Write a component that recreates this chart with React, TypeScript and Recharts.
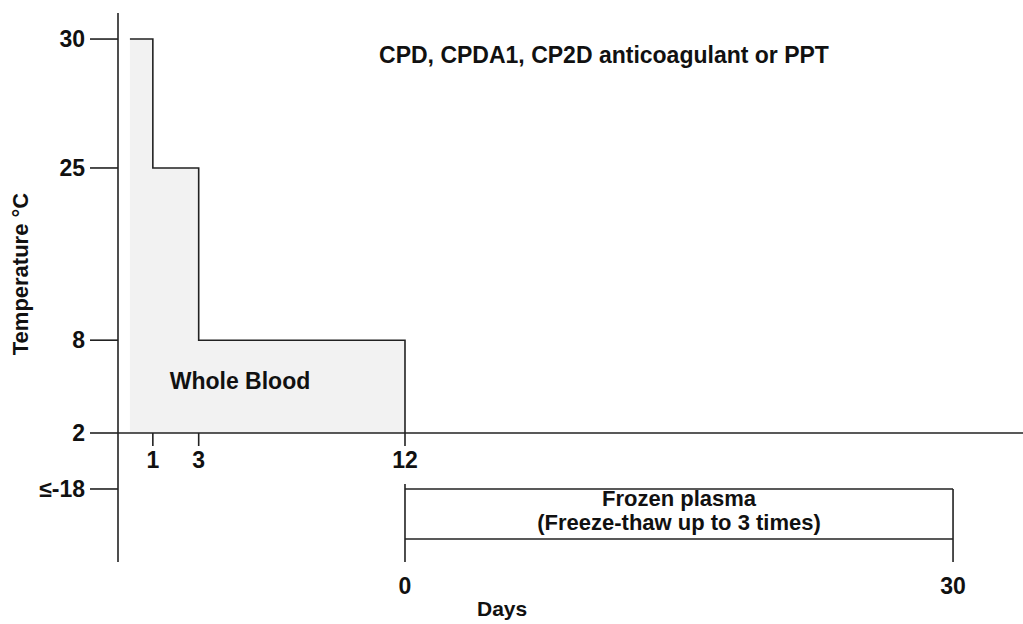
import React from "react";
import { ComposedChart, Area, XAxis, YAxis, ReferenceLine } from "recharts";

// The figure is a schematic: temperatures are not drawn to scale, so every
// temperature label gets a level on a 0..100 panel axis (0 = panel bottom).
const upperTempLabels = ["30", "25", "8", "2"];
const upperTempLevels = [93.8, 63.1, 22.1, 0];
const lowerTempLabels = ["≤-18"];
const lowerTempLevels = [56.6];

// Whole blood: allowed temperature over storage days (step shape)
const bloodDays = [0, 1, 3, 12, 12];
const bloodTemps = ["30", "25", "8", "8", "2"];
const upperDayTicks = [1, 3, 12];

// Frozen plasma: 0..30 days at <= -18 (drawn as a labelled band)
const plasmaDays = [0, 30];
const plasmaBandLow = [17.8, 17.8];
const plasmaBandHigh = [56.6, 56.6];
const plasmaLineTops = [60.5, 56.6];
const lowerDayTicks = [0, 30];

const FONT = '"Liberation Sans", Arial, Helvetica, sans-serif';
const INK = "#222";
const W = 1023;

const tickStyle = { fontFamily: FONT, fontSize: 23, fontWeight: 700, fill: "#111" };
const lineStyle = { stroke: INK, strokeWidth: 1.6 };

export default function App() {
  const levelOf = (t: string) => upperTempLevels[upperTempLabels.indexOf(t)];
  const bloodData = bloodDays.map((day, i) => ({ day, level: levelOf(bloodTemps[i]) }));
  const plasmaData = plasmaDays.map((day, i) => ({ day, band: [plasmaBandLow[i], plasmaBandHigh[i]] }));

  return (
    <div style={{ position: "fixed", left: 0, top: 0, width: W, height: 624, overflow: "hidden", background: "#fff" }}>
      {/* upper panel: whole blood */}
      <div style={{ position: "absolute", left: 0, top: 0 }}>
        <ComposedChart width={W} height={473} data={bloodData} margin={{ top: 13, right: 0, bottom: 0, left: 0 }}>
          <XAxis
            dataKey="day"
            type="number"
            domain={[-0.52, 38.96]}
            allowDataOverflow
            ticks={upperDayTicks}
            interval={0}
            height={40}
            tickSize={13}
            tickMargin={6}
            axisLine={lineStyle}
            tickLine={lineStyle}
            tick={tickStyle}
          />
          <YAxis
            type="number"
            domain={[0, 100]}
            ticks={upperTempLevels}
            interval={0}
            width={118}
            tickSize={28}
            tickMargin={5}
            tickFormatter={(v: number) => upperTempLabels[upperTempLevels.indexOf(v)]}
            axisLine={lineStyle}
            tickLine={lineStyle}
            tick={tickStyle}
          />
          <Area
            type="stepAfter"
            dataKey="level"
            baseValue={0}
            fill="#f2f2f2"
            fillOpacity={1}
            stroke={INK}
            strokeWidth={1.6}
            dot={false}
            activeDot={false}
            isAnimationActive={false}
          />
        </ComposedChart>
      </div>

      {/* lower panel: frozen plasma */}
      <div style={{ position: "absolute", left: 0, top: 433 }}>
        <ComposedChart width={W} height={191} data={plasmaData} margin={{ top: 0, right: 0, bottom: 0, left: 0 }}>
          <XAxis
            dataKey="day"
            type="number"
            domain={[-15.71, 33.83]}
            allowDataOverflow
            ticks={lowerDayTicks}
            interval={0}
            height={62}
            axisLine={false}
            tickLine={false}
            tickSize={8}
            tickMargin={8}
            tick={tickStyle}
          />
          <YAxis
            type="number"
            domain={[0, 100]}
            allowDataOverflow
            ticks={lowerTempLevels}
            interval={0}
            width={118}
            tickSize={28}
            tickMargin={5}
            tickFormatter={(v: number) => lowerTempLabels[lowerTempLevels.indexOf(v)]}
            axisLine={lineStyle}
            tickLine={lineStyle}
            tick={tickStyle}
          />
          <Area
            type="linear"
            dataKey="band"
            fill="#fff"
            fillOpacity={1}
            stroke={INK}
            strokeWidth={1.6}
            dot={false}
            activeDot={false}
            isAnimationActive={false}
          />
          {plasmaDays.map((d, i) => (
            <ReferenceLine
              key={d}
              segment={[{ x: d, y: 0 }, { x: d, y: plasmaLineTops[i] }]}
              stroke={INK}
              strokeWidth={1.6}
            />
          ))}
        </ComposedChart>
      </div>

      {/* titles and annotations */}
      <svg width={W} height={624} style={{ position: "absolute", left: 0, top: 0, pointerEvents: "none" }}>
        <g fontFamily={FONT} fontWeight={700} fill="#111">
          <text x={604} y={63} fontSize={23} textAnchor="middle">CPD, CPDA1, CP2D anticoagulant or PPT</text>
          <text x={240} y={389} fontSize={23} textAnchor="middle">Whole Blood</text>
          <text x={679} y={506} fontSize={22} textAnchor="middle">Frozen plasma</text>
          <text x={679} y={530} fontSize={22} textAnchor="middle">(Freeze-thaw up to 3 times)</text>
          <text x={477} y={616} fontSize={21}>Days</text>
          <text transform="translate(28, 274) rotate(-90)" fontSize={22} textAnchor="middle">Temperature °C</text>
        </g>
      </svg>
    </div>
  );
}
